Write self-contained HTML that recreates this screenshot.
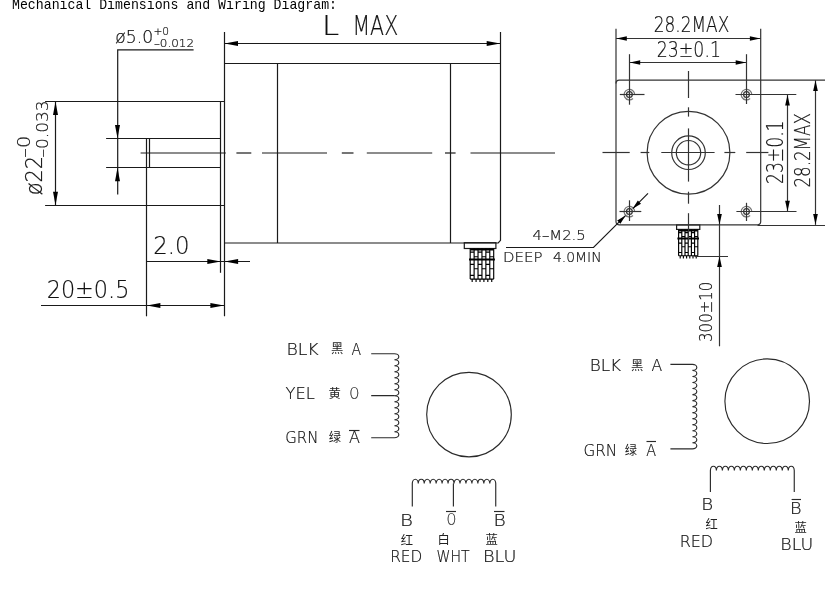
<!DOCTYPE html>
<html lang="en"><head><meta charset="utf-8"><title>Mechanical Dimensions and Wiring Diagram</title>
<style>
html,body{margin:0;padding:0;background:#fff;overflow:hidden}
svg{display:block;filter:grayscale(1)}
.g *{fill:none;stroke:#1a1a1a;stroke-width:1.2}
.rv *{stroke:#333}
.wd *{stroke:#2a2a2a;stroke-width:1.15}
.g .a{fill:#000;stroke:none}
.g .t{stroke:#777}
.g .k{stroke:#000;stroke-width:1.15}
.g .k2{stroke:#000;stroke-width:2}
.cad{font-family:"DejaVu Sans Light","DejaVu Sans","Liberation Sans",sans-serif;font-weight:200;fill:#111;stroke:#111;stroke-width:.2px}
.mono{font-family:"Liberation Mono","DejaVu Sans Mono",monospace;fill:#000}
.cjk{font-family:"Liberation Sans","Noto Sans CJK SC","Noto Serif CJK SC",sans-serif;fill:#222}
</style></head><body>
<svg width="827" height="592" viewBox="0 0 827 592">
<rect width="827" height="592" fill="#fff"/>
<g class="g">
<line x1="224.5" y1="31.9" x2="224.5" y2="316.3"/>
<path d="M500.5 31.9 V240.3 L498.2 243 H224.7"/>
<line x1="224.2" y1="63.5" x2="500.5" y2="63.5"/>
<line x1="277.5" y1="63.5" x2="277.5" y2="243"/>
<line x1="450.5" y1="63.5" x2="450.5" y2="243"/>
<line x1="220.5" y1="101.3" x2="220.5" y2="272.8"/>
<line x1="45.1" y1="101.5" x2="224.2" y2="101.5"/>
<line x1="45.1" y1="205.5" x2="224.2" y2="205.5"/>
<line x1="106.1" y1="138.5" x2="220.8" y2="138.5"/>
<line x1="106.1" y1="167.5" x2="220.8" y2="167.5"/>
<line x1="146.5" y1="138.4" x2="146.5" y2="316.3"/>
<line x1="149.5" y1="138.4" x2="149.5" y2="167.5"/>
<line x1="140.6" y1="153" x2="225.8" y2="153"/>
<line x1="236.4" y1="153" x2="251.3" y2="153"/>
<line x1="262" y1="153" x2="327" y2="153"/>
<line x1="341.8" y1="153" x2="353.5" y2="153"/>
<line x1="366.8" y1="153" x2="432.2" y2="153"/>
<line x1="445" y1="153" x2="455.6" y2="153"/>
<line x1="470.5" y1="153" x2="555" y2="153"/>
<line x1="224.2" y1="43.5" x2="500.5" y2="43.5"/>
<polygon class="a" points="224.5,43.5 238,41 238,46"/>
<polygon class="a" points="500.2,43.5 486.7,41 486.7,46"/>
<path d="M193.6 49.9 H117.7 V194.6"/>
<polygon class="a" points="117.5,138.4 115,124.9 120,124.9"/>
<polygon class="a" points="117.5,167.7 115,181.2 120,181.2"/>
<line x1="55.5" y1="101.3" x2="55.5" y2="205.4"/>
<polygon class="a" points="55.5,101.6 53,115.1 58,115.1"/>
<polygon class="a" points="55.5,205.2 53,191.7 58,191.7"/>
<line x1="146.4" y1="261.5" x2="250" y2="261.5"/>
<polygon class="a" points="220.8,261.5 207.3,259 207.3,264"/>
<polygon class="a" points="224.6,261.5 238.1,259 238.1,264"/>
<line x1="41" y1="305.5" x2="224.2" y2="305.5"/>
<polygon class="a" points="146.9,305.5 160.4,303 160.4,308"/>
<polygon class="a" points="223.9,305.5 210.4,303 210.4,308"/>
<rect x="464.3" y="242.7" width="31.6" height="5.8"/>
<path d="M470.2 248.5V279.1M474.12 248.5V279.1M478.03 248.5V279.1M481.95 248.5V279.1M485.87 248.5V279.1M489.78 248.5V279.1M493.7 248.5V279.1M470.2 279.1H493.7M470.2 252.17H474.12M470.2 264.41H474.12M470.2 275.43H474.12M474.12 256.76H478.03M474.12 268.7H478.03M478.03 252.17H481.95M478.03 264.41H481.95M478.03 275.43H481.95M481.95 256.76H485.87M481.95 268.7H485.87M485.87 252.17H489.78M485.87 264.41H489.78M485.87 275.43H489.78M489.78 256.76H493.7M489.78 268.7H493.7M472.16 279.1v2.8M476.07 279.1v2.8M479.99 279.1v2.8M483.91 279.1v2.8M487.82 279.1v2.8M491.74 279.1v2.8" class="k"/>
<line x1="469" y1="259.5" x2="494.9" y2="259.5" class="k2"/>
<line x1="470.2" y1="249.5" x2="493.7" y2="249.5" class="k2"/>
<rect x="676.6" y="224.9" width="23.2" height="4.5"/>
<path d="M678.6 229.4V255.7M681.8 229.4V255.7M685 229.4V255.7M688.2 229.4V255.7M691.4 229.4V255.7M694.6 229.4V255.7M697.8 229.4V255.7M678.6 255.7H697.8M678.6 232.56H681.8M678.6 243.08H681.8M678.6 252.54H681.8M681.8 236.5H685M681.8 246.76H685M685 232.56H688.2M685 243.08H688.2M685 252.54H688.2M688.2 236.5H691.4M688.2 246.76H691.4M691.4 232.56H694.6M691.4 243.08H694.6M691.4 252.54H694.6M694.6 236.5H697.8M694.6 246.76H697.8M680.2 255.7v2.8M683.4 255.7v2.8M686.6 255.7v2.8M689.8 255.7v2.8M693 255.7v2.8M696.2 255.7v2.8" class="k"/>
<line x1="677.4" y1="238.5" x2="699" y2="238.5" class="k2"/>
<line x1="678.6" y1="230.5" x2="697.8" y2="230.5" class="k2"/>
</g><g class="g rv">
<path d="M616.0 28.8 V221.7 a3.2 3.2 0 0 0 3.2 3.2 H757.5 a3.2 3.2 0 0 0 3.2 -3.2 V28.8"/>
<path d="M616.0 83.4 a3.2 3.2 0 0 1 3.2 -3.2 H825"/>
<line x1="757.5" y1="225.5" x2="825" y2="225.5"/>
<circle cx="688.5" cy="152.7" r="41.4"/>
<circle cx="688.5" cy="152.7" r="16.8"/>
<circle cx="688.5" cy="152.7" r="12.2"/>
<line x1="602.5" y1="152.5" x2="629.7" y2="152.5"/>
<line x1="640.6" y1="152.5" x2="649.3" y2="152.5"/>
<line x1="661.3" y1="152.5" x2="714.6" y2="152.5"/>
<line x1="724.4" y1="152.5" x2="735.3" y2="152.5"/>
<line x1="746.2" y1="152.5" x2="768.4" y2="152.5"/>
<line x1="688.5" y1="71" x2="688.5" y2="98"/>
<line x1="688.5" y1="107.3" x2="688.5" y2="116.6"/>
<line x1="688.5" y1="128.4" x2="688.5" y2="181.6"/>
<line x1="688.5" y1="191.7" x2="688.5" y2="203.7"/>
<line x1="688.5" y1="213.2" x2="688.5" y2="241.5"/>
<circle cx="629.4" cy="94.6" r="2.9"/>
<path d="M633 98.5 A5.3 5.3 0 1 1 634.7 94.6" class="t"/>
<circle cx="746.5" cy="94.6" r="2.9"/>
<path d="M750.1 98.5 A5.3 5.3 0 1 1 751.8 94.6" class="t"/>
<circle cx="629.4" cy="211.6" r="2.9"/>
<path d="M633 215.5 A5.3 5.3 0 1 1 634.7 211.6" class="t"/>
<circle cx="746.5" cy="211.6" r="2.9"/>
<path d="M750.1 215.5 A5.3 5.3 0 1 1 751.8 211.6" class="t"/>
<line x1="619.8" y1="94.5" x2="644.5" y2="94.5"/>
<line x1="629.5" y1="54.2" x2="629.5" y2="104.7"/>
<line x1="735.5" y1="94.5" x2="796.3" y2="94.5"/>
<line x1="746.5" y1="54.2" x2="746.5" y2="104"/>
<line x1="619.5" y1="211.5" x2="641.3" y2="211.5"/>
<line x1="629.5" y1="200.3" x2="629.5" y2="221"/>
<line x1="736.4" y1="211.5" x2="796.5" y2="211.5"/>
<line x1="746.5" y1="202.8" x2="746.5" y2="221"/>
<line x1="616" y1="38.5" x2="760.7" y2="38.5"/>
<polygon class="a" points="616.3,38.5 626.8,36.15 626.8,40.85"/>
<polygon class="a" points="760.4,38.5 749.9,36.15 749.9,40.85"/>
<line x1="629.4" y1="62.5" x2="746.5" y2="62.5"/>
<polygon class="a" points="629.7,62.5 640.2,60.15 640.2,64.85"/>
<polygon class="a" points="746.2,62.5 735.7,60.15 735.7,64.85"/>
<line x1="787.5" y1="94.6" x2="787.5" y2="211.6"/>
<polygon class="a" points="787.5,94.9 785.15,105.4 789.85,105.4"/>
<polygon class="a" points="787.5,211.3 785.15,200.8 789.85,200.8"/>
<line x1="815.5" y1="80.2" x2="815.5" y2="224.9"/>
<polygon class="a" points="815.5,80.5 813.15,91 817.85,91"/>
<polygon class="a" points="815.5,224.6 813.15,214.1 817.85,214.1"/>
<line x1="719.5" y1="205" x2="719.5" y2="346.3"/>
<polygon class="a" points="719.5,224.6 717.15,214.1 721.85,214.1"/>
<polygon class="a" points="719.5,256.4 717.15,266.9 721.85,266.9"/>
<line x1="694.5" y1="256.5" x2="728" y2="256.5"/>
</g><g class="g">
<path d="M506 247.5 H593.5 L625.5 215.6 M632.8 208.6 L648 193.3"/>
<polygon class="a" points="625.6,215.5 617.2,220.5 620.4,223.8"/>
<polygon class="a" points="632.6,208.7 641.0,203.7 637.8,200.4"/>
</g><g class="g wd">
<path d="M371.2 353.7 H394.4 a4.4 3 0 0 1 0 6a4.4 3 0 0 1 0 6a4.4 3 0 0 1 0 6a4.4 3 0 0 1 0 6a4.4 3 0 0 1 0 6a4.4 3 0 0 1 0 6a4.4 3 0 0 1 0 6a4.4 3 0 0 1 0 6a4.4 3 0 0 1 0 6a4.4 3 0 0 1 0 6a4.4 3 0 0 1 0 6a4.4 3 0 0 1 0 6a4.4 3 0 0 1 0 6a4.4 3 0 0 1 0 6 H371.2 M371.2 395.6 H394.4"/>
<circle cx="469" cy="414.6" r="42.3"/>
<path d="M412.3 506.6 V483.6 a2.98 4.4 0 0 1 5.96 0a2.98 4.4 0 0 1 5.96 0a2.98 4.4 0 0 1 5.96 0a2.98 4.4 0 0 1 5.96 0a2.98 4.4 0 0 1 5.96 0a2.98 4.4 0 0 1 5.96 0a2.98 4.4 0 0 1 5.96 0a2.98 4.4 0 0 1 5.96 0a2.98 4.4 0 0 1 5.96 0a2.98 4.4 0 0 1 5.96 0a2.98 4.4 0 0 1 5.96 0a2.98 4.4 0 0 1 5.96 0a2.98 4.4 0 0 1 5.96 0a2.98 4.4 0 0 1 5.96 0 V506.6 M453.4 483.6 V506.6"/>
<path d="M670.4 364.4 H692.4 a4.4 3.01 0 0 1 0 6.03a4.4 3.01 0 0 1 0 6.03a4.4 3.01 0 0 1 0 6.03a4.4 3.01 0 0 1 0 6.03a4.4 3.01 0 0 1 0 6.03a4.4 3.01 0 0 1 0 6.03a4.4 3.01 0 0 1 0 6.03a4.4 3.01 0 0 1 0 6.03a4.4 3.01 0 0 1 0 6.03a4.4 3.01 0 0 1 0 6.03a4.4 3.01 0 0 1 0 6.03a4.4 3.01 0 0 1 0 6.03a4.4 3.01 0 0 1 0 6.03a4.4 3.01 0 0 1 0 6.03 H670.4"/>
<circle cx="767.2" cy="401.2" r="42.3"/>
<path d="M710.4 492 V470.4 a3 4.4 0 0 1 5.99 0a3 4.4 0 0 1 5.99 0a3 4.4 0 0 1 5.99 0a3 4.4 0 0 1 5.99 0a3 4.4 0 0 1 5.99 0a3 4.4 0 0 1 5.99 0a3 4.4 0 0 1 5.99 0a3 4.4 0 0 1 5.99 0a3 4.4 0 0 1 5.99 0a3 4.4 0 0 1 5.99 0a3 4.4 0 0 1 5.99 0a3 4.4 0 0 1 5.99 0a3 4.4 0 0 1 5.99 0a3 4.4 0 0 1 5.99 0 V492"/>
<line x1="349" y1="430.5" x2="359.5" y2="430.5"/>
<line x1="446" y1="511.5" x2="456" y2="511.5"/>
<line x1="494" y1="511.5" x2="504.5" y2="511.5"/>
<line x1="646.5" y1="441.5" x2="656" y2="441.5"/>
<line x1="791.6" y1="499.5" x2="801" y2="499.5"/>
</g>
<g>
<text x="115.25" y="43.35" class="cad" font-size="17.65" textLength="37.82" lengthAdjust="spacingAndGlyphs">ø5.0</text>
<text x="153.4" y="35.15" class="cad" font-size="10.74" textLength="15.72" lengthAdjust="spacingAndGlyphs">+0</text>
<text x="153.9" y="46.75" class="cad" font-size="10.33" textLength="40.14" lengthAdjust="spacingAndGlyphs">–0.012</text>
<text class="cad" font-size="22.68" textLength="39.43" lengthAdjust="spacingAndGlyphs" transform="translate(41.75 195.3) rotate(-90)">ø22</text>
<text class="cad" font-size="17.17" textLength="22.05" lengthAdjust="spacingAndGlyphs" transform="translate(30.15 157.8) rotate(-90)">–0</text>
<text class="cad" font-size="16.62" textLength="57.26" lengthAdjust="spacingAndGlyphs" transform="translate(48.35 157.55) rotate(-90)">–0.033</text>
<text x="153.3" y="253.9" class="cad" font-size="24.62" textLength="36.27" lengthAdjust="spacingAndGlyphs">2.0</text>
<text x="46.7" y="297.5" class="cad" font-size="25.02" textLength="82.7" lengthAdjust="spacingAndGlyphs">20±0.5</text>
<text x="321.95" y="35" class="cad" font-size="25.79" textLength="17.15" lengthAdjust="spacingAndGlyphs">L</text>
<text x="352.45" y="35" class="cad" font-size="25.79" textLength="45.74" lengthAdjust="spacingAndGlyphs">MAX</text>
<text x="653.75" y="32.15" class="cad" font-size="20.47" textLength="75.49" lengthAdjust="spacingAndGlyphs">28.2MAX</text>
<text x="656.75" y="57.15" class="cad" font-size="20.47" textLength="64.18" lengthAdjust="spacingAndGlyphs">23±0.1</text>
<text class="cad" font-size="22.65" textLength="63.48" lengthAdjust="spacingAndGlyphs" transform="translate(782.55 183.95) rotate(-90)">23±0.1</text>
<text class="cad" font-size="21.15" textLength="74.38" lengthAdjust="spacingAndGlyphs" transform="translate(810.25 187.55) rotate(-90)">28.2MAX</text>
<text class="cad" font-size="17.17" textLength="60.1" lengthAdjust="spacingAndGlyphs" transform="translate(712.45 341.9) rotate(-90)">300±10</text>
<text x="532.55" y="240.05" class="cad" font-size="13.61" textLength="53.13" lengthAdjust="spacingAndGlyphs">4–M2.5</text>
<text x="503.05" y="261.8" class="cad" font-size="14.55" textLength="39.39" lengthAdjust="spacingAndGlyphs">DEEP</text>
<text x="552.95" y="261.55" class="cad" font-size="13.88" textLength="48.72" lengthAdjust="spacingAndGlyphs">4.0MIN</text>
<text x="286.4" y="355.3" class="cad" font-size="15.6" textLength="32.29" lengthAdjust="spacingAndGlyphs">BLK</text>
<text x="351.5" y="355.3" class="cad" font-size="15.6" textLength="9.61" lengthAdjust="spacingAndGlyphs">A</text>
<text x="285.5" y="399.3" class="cad" font-size="15.6" textLength="29.28" lengthAdjust="spacingAndGlyphs">YEL</text>
<text x="349.4" y="399.05" class="cad" font-size="15.6" textLength="9.65" lengthAdjust="spacingAndGlyphs">O</text>
<text x="285.25" y="443.15" class="cad" font-size="15.6" textLength="33.06" lengthAdjust="spacingAndGlyphs">GRN</text>
<text x="349" y="443.4" class="cad" font-size="15.6" textLength="10.98" lengthAdjust="spacingAndGlyphs">A</text>
<text x="399.9" y="525.5" class="cad" font-size="15.6" textLength="12.95" lengthAdjust="spacingAndGlyphs">B</text>
<text x="446.7" y="525.25" class="cad" font-size="15.6" textLength="9.33" lengthAdjust="spacingAndGlyphs">O</text>
<text x="493.45" y="525.5" class="cad" font-size="15.6" textLength="12.26" lengthAdjust="spacingAndGlyphs">B</text>
<text x="390.15" y="562.4" class="cad" font-size="15.6" textLength="32.11" lengthAdjust="spacingAndGlyphs">RED</text>
<text x="436.5" y="562.4" class="cad" font-size="15.6" textLength="33.13" lengthAdjust="spacingAndGlyphs">WHT</text>
<text x="482.95" y="562.15" class="cad" font-size="15.6" textLength="33.5" lengthAdjust="spacingAndGlyphs">BLU</text>
<text x="589.7" y="371.2" class="cad" font-size="15.6" textLength="31.48" lengthAdjust="spacingAndGlyphs">BLK</text>
<text x="651.5" y="371.2" class="cad" font-size="15.6" textLength="10.7" lengthAdjust="spacingAndGlyphs">A</text>
<text x="583.45" y="456.05" class="cad" font-size="15.6" textLength="33.62" lengthAdjust="spacingAndGlyphs">GRN</text>
<text x="646.3" y="456.3" class="cad" font-size="15.6" textLength="9.88" lengthAdjust="spacingAndGlyphs">A</text>
<text x="701.35" y="510.3" class="cad" font-size="15.6" textLength="11.9" lengthAdjust="spacingAndGlyphs">B</text>
<text x="790.05" y="513.8" class="cad" font-size="15.6" textLength="11.55" lengthAdjust="spacingAndGlyphs">B</text>
<text x="679.7" y="546.9" class="cad" font-size="15.6" textLength="33.49" lengthAdjust="spacingAndGlyphs">RED</text>
<text x="780.3" y="550.15" class="cad" font-size="15.6" textLength="32.93" lengthAdjust="spacingAndGlyphs">BLU</text>
<text x="331.1" y="353.4" class="cjk" font-size="12.3">黑</text>
<text x="328.55" y="397.88" class="cjk" font-size="12.3">黄</text>
<text x="328.68" y="441.93" class="cjk" font-size="12.3">绿</text>
<text x="400.77" y="544.5" class="cjk" font-size="12.3">红</text>
<text x="437.38" y="544.25" class="cjk" font-size="12.3">白</text>
<text x="485.58" y="544.25" class="cjk" font-size="12.3">蓝</text>
<text x="631.1" y="369.75" class="cjk" font-size="12.3">黑</text>
<text x="624.77" y="455.38" class="cjk" font-size="12.3">绿</text>
<text x="705.42" y="528.9" class="cjk" font-size="12.3">红</text>
<text x="794.62" y="531.9" class="cjk" font-size="12.3">蓝</text>
<text x="12" y="8.5" class="mono" font-size="15" textLength="325" lengthAdjust="spacingAndGlyphs">Mechanical Dimensions and Wiring Diagram:</text>
</g>
</svg>
</body></html>
